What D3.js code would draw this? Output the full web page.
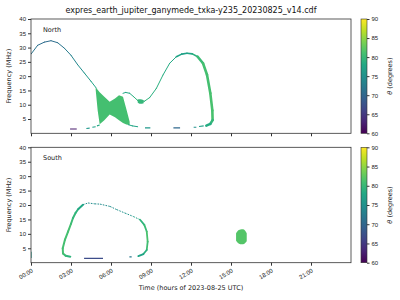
<!DOCTYPE html>
<html>
<head>
<meta charset="utf-8">
<script src="https://cdn.jsdelivr.net/npm/d3@7"></script>
<style>
  body { margin: 0; background: #fff; }
  svg { font-family: "DejaVu Sans", sans-serif; }
  .tick text { fill: #222; }
  .domain, .tick line { stroke: #333; }
</style>
</head>
<body>
<svg id="chart" width="400" height="300"></svg>
<script>
// --- data (time in hours, frequency in MHz, theta in degrees)
var hourTicks = [0, 3, 6, 9, 12, 15, 18, 21];
var freqTicks = [5, 10, 15, 20, 25, 30, 35, 40];
var thetaTicks = [60, 65, 70, 75, 80, 85, 90];

// north hemisphere: [hour, freq, theta]
var northDescent = [[0.0, 27.7, 72], [0.5, 30.8, 71], [1.0, 31.9, 70.5], [1.5, 32.4, 70.5], [2.0, 31.7, 71],
	[2.5, 29.8, 72], [3.0, 27.3, 73], [3.5, 24.0, 74], [4.0, 21.1, 75.5], [4.5, 18.2, 77], [4.9, 15.8, 78]];
var northHump = [[6.9, 14.0, 78], [7.1, 14.3, 78], [7.4, 14.0, 78], [7.7, 12.8, 79], [8.0, 11.5, 80],
	[8.5, 11.2, 80], [8.9, 12.5, 79], [9.4, 15.7, 79], [9.9, 20.4, 79], [10.4, 24.5, 78], [10.9, 26.8, 78]];
var northArcTop = [[10.9, 26.8, 78], [11.3, 27.7, 77], [11.7, 28.0, 77], [12.1, 27.8, 78], [12.5, 26.8, 80]];
var northArcRight = [[12.5, 26.8, 80], [12.9, 24.5, 81], [13.2, 20.5, 81], [13.45, 14.0, 81],
	[13.6, 8.0, 81.5], [13.62, 4.6, 81], [13.45, 3.3, 79], [13.15, 2.7, 78]];
var northTail = [[7.3, 3.0, 78], [7.6, 2.6, 78], [8.0, 2.3, 77]];
// north short dashes: [hourStart, hourEnd, freqStart, freqEnd, theta]
var northDashes = [[2.93, 3.43, 1.5, 1.5, 62], [4.15, 4.4, 1.7, 1.8, 76], [4.6, 4.85, 2.1, 2.3, 77],
	[4.95, 5.15, 2.6, 2.9, 78], [8.55, 8.95, 1.9, 1.9, 76], [10.68, 11.18, 1.9, 1.9, 70],
	[12.2, 12.4, 2.1, 2.1, 75], [12.6, 12.95, 2.4, 2.6, 77]];
// north filled patches: [hour, freqLow, freqHigh]
var northBowtie = [[4.85, 15.2, 16.0], [5.0, 8.0, 15.2], [5.15, 3.2, 14.4], [5.5, 4.6, 12.8], [5.9, 6.6, 11.0],
	[6.3, 5.6, 12.2], [6.6, 4.6, 13.3], [6.9, 3.6, 12.8], [7.15, 3.1, 8.5], [7.4, 2.9, 4.0]];
var northKnot = [[8.0, 10.8, 11.8], [8.2, 10.3, 11.9], [8.45, 10.5, 11.6]];
var northBowtieTheta = 81;

// south hemisphere
var southLeft = [[2.95, 2.1, 79], [2.6, 2.4, 80], [2.4, 3.2, 81], [2.38, 5.0, 81], [2.55, 8.0, 81],
	[2.78, 10.8, 81], [3.0, 13.5, 81], [3.15, 15.5, 80], [3.35, 17.3, 80], [3.55, 18.6, 79], [3.9, 20.1, 77]];
var southTop = [[3.9, 20.1, 76], [4.28, 20.7, 75], [4.78, 20.4, 74.5], [5.18, 20.3, 74.5], [5.93, 19.5, 74.5],
	[6.43, 18.4, 75], [7.05, 17.2, 75], [7.68, 16.0, 76], [8.18, 14.9, 78]];
var southRight = [[8.18, 14.9, 79], [8.5, 13.1, 80], [8.68, 10.8, 81], [8.75, 7.3, 81.5], [8.68, 4.4, 80],
	[8.43, 3.0, 78], [8.05, 2.3, 77]];
var southDashes = [[7.38, 7.55, 2.0, 2.0, 72], [3.98, 5.4, 1.5, 1.5, 67], [0.0, 0.0, 1.6, 3.8, 76]];
var southBlob = [[15.38, 7.6, 10.2], [15.5, 6.9, 11.0], [15.7, 6.4, 11.5], [15.9, 6.4, 11.6],
	[16.05, 6.7, 11.2], [16.18, 7.4, 10.2]];
var southBlobTheta = 82;

// --- layout
var svg = d3.select("#chart");
var plotLeft = 31, plotRight = 351;
var panels = [
	{ name: "North", top: 19, bottom: 133.3 },
	{ name: "South", top: 147.3, bottom: 262.7 }
];
var cbLeft = 361, cbWidth = 6;

var x = d3.scaleLinear().domain([0, 24]).range([plotLeft, plotRight]);
var color = function(theta) { return d3.interpolateViridis((theta - 60) / 30); };

svg.append("text")
	.attr("x", (plotLeft + plotRight) / 2).attr("y", 13)
	.attr("text-anchor", "middle").attr("font-size", 8).attr("fill", "#111")
	.text("expres_earth_jupiter_ganymede_txka-y235_20230825_v14.cdf");

// viridis gradient for the colour bars
var grad = svg.append("defs").append("linearGradient")
	.attr("id", "viridis").attr("x1", 0).attr("y1", 1).attr("x2", 0).attr("y2", 0);
d3.range(0, 1.001, 0.1).forEach(function(s) {
	grad.append("stop").attr("offset", s).attr("stop-color", d3.interpolateViridis(s));
});

function drawPath(g, y, pts, width, dash) {
	for (var i = 0; i < pts.length - 1; i++) {
		var a = pts[i], b = pts[i + 1];
		g.append("path")
			.attr("d", d3.line()([[x(a[0]), y(a[1])], [x(b[0]), y(b[1])]]))
			.attr("stroke", color((a[2] + b[2]) / 2))
			.attr("stroke-width", width)
			.attr("stroke-linecap", dash ? "butt" : "round")
			.attr("stroke-dasharray", dash || null)
			.attr("fill", "none");
	}
}

function drawDashes(g, y, dashes, width) {
	g.selectAll(null).data(dashes).enter().append("path")
		.attr("d", function(d) { return d3.line()([[x(d[0]), y(d[2])], [x(d[1]), y(d[3])]]); })
		.attr("stroke", function(d) { return color(d[4]); })
		.attr("stroke-width", width)
		.attr("fill", "none");
}

function drawPatch(g, y, pts, theta, curve) {
	g.append("path")
		.attr("d", d3.area()
			.x(function(d) { return x(d[0]); })
			.y0(function(d) { return y(d[1]); })
			.y1(function(d) { return y(d[2]); })
			.curve(curve || d3.curveMonotoneX)(pts))
		.attr("fill", color(theta));
}

panels.forEach(function(p, k) {
	var y = d3.scaleLinear().domain([0, 40]).range([p.bottom, p.top]);
	var g = svg.append("g");

	var clip = svg.append("clipPath").attr("id", "clip" + k);
	clip.append("rect").attr("x", plotLeft).attr("y", p.top)
		.attr("width", plotRight - plotLeft).attr("height", p.bottom - p.top);
	var marks = g.append("g").attr("clip-path", "url(#clip" + k + ")");

	if (k === 0) {
		drawPatch(marks, y, northBowtie, northBowtieTheta, d3.curveLinear);
		drawPatch(marks, y, northKnot, 80);
		drawPath(marks, y, northDescent, 1);
		drawPath(marks, y, northHump, 1);
		drawPath(marks, y, northArcTop, 1.6);
		drawPath(marks, y, northArcRight, 2.6);
		drawPath(marks, y, northTail, 1);
		drawDashes(marks, y, northDashes, 1.1);
	} else {
		drawPath(marks, y, southLeft, 2);
		drawPath(marks, y, southTop, 1, "1.6,1.2");
		drawPath(marks, y, southRight, 1.8);
		drawDashes(marks, y, southDashes, 1.2);
		drawPatch(marks, y, southBlob, southBlobTheta);
	}

	// frame
	g.append("rect")
		.attr("x", plotLeft).attr("y", p.top)
		.attr("width", plotRight - plotLeft).attr("height", p.bottom - p.top)
		.attr("fill", "none").attr("stroke", "#333").attr("stroke-width", 0.8);

	var yAxis = g.append("g").attr("transform", "translate(" + plotLeft + ",0)")
		.call(d3.axisLeft(y).tickValues(freqTicks).tickSize(3).tickPadding(2));
	yAxis.selectAll("text").attr("font-size", 6);
	yAxis.select(".domain").remove();

	var xAxis = g.append("g").attr("transform", "translate(0," + p.bottom + ")")
		.call(d3.axisBottom(x).tickValues(hourTicks).tickSize(3)
			.tickFormat(function(h) { return d3.format("02d")(h) + ":00"; }));
	xAxis.select(".domain").remove();
	if (k === 0) {
		xAxis.selectAll("text").remove();
	} else {
		xAxis.selectAll("text")
			.attr("font-size", 6)
			.attr("text-anchor", "end")
			.attr("dy", 0)
			.attr("transform", "translate(-1,4) rotate(-30)");
	}

	g.append("text")
		.attr("x", 43).attr("y", p.top + 13)
		.attr("font-size", 6.5).attr("fill", "#222")
		.text(p.name);

	g.append("text")
		.attr("transform", "translate(11," + (p.top + p.bottom) / 2 + ") rotate(-90)")
		.attr("text-anchor", "middle").attr("font-size", 6.5).attr("fill", "#222")
		.text("Frequency (MHz)");

	// colour bar
	var cy = d3.scaleLinear().domain([60, 90]).range([p.bottom, p.top]);
	g.append("rect")
		.attr("x", cbLeft).attr("y", p.top)
		.attr("width", cbWidth).attr("height", p.bottom - p.top)
		.attr("fill", "url(#viridis)").attr("stroke", "#333").attr("stroke-width", 0.6);
	var cAxis = g.append("g").attr("transform", "translate(" + (cbLeft + cbWidth) + ",0)")
		.call(d3.axisRight(cy).tickValues(thetaTicks).tickSize(2.5).tickPadding(2));
	cAxis.select(".domain").remove();
	cAxis.selectAll("text").attr("font-size", 6);

	var lab = g.append("text")
		.attr("transform", "translate(392," + (p.top + p.bottom) / 2 + ") rotate(-90)")
		.attr("text-anchor", "middle").attr("font-size", 6.5).attr("fill", "#222");
	lab.append("tspan").attr("font-style", "italic").text("θ");
	lab.append("tspan").text(" (degrees)");
});

svg.append("text")
	.attr("x", (plotLeft + plotRight) / 2).attr("y", 290)
	.attr("text-anchor", "middle").attr("font-size", 6.5).attr("fill", "#222")
	.text("Time (hours of 2023-08-25 UTC)");
</script>
</body>
</html>
